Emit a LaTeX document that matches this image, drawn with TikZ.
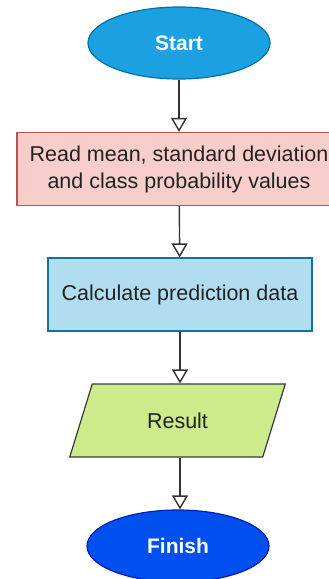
\documentclass[tikz,border=0pt]{standalone}
\usepackage{fontspec}
\setmainfont{Liberation Sans}
\usetikzlibrary{shapes.geometric,arrows.meta}
\definecolor{startfill}{HTML}{1BA1E2}
\definecolor{startline}{HTML}{006EAF}
\definecolor{readfill}{HTML}{F8CECC}
\definecolor{readline}{HTML}{B85450}
\definecolor{calcfill}{HTML}{B1DDF0}
\definecolor{calcline}{HTML}{10739E}
\definecolor{resfill}{HTML}{CDEB8B}
\definecolor{resline}{HTML}{36393D}
\definecolor{finfill}{HTML}{0050EF}
\definecolor{finline}{HTML}{001DBC}
\definecolor{txt}{HTML}{222222}
\definecolor{conn}{HTML}{333333}
\tikzset{
  term/.style={ellipse, draw, line width=1.2pt, minimum width=182pt, minimum height=72pt, inner sep=0pt, text=white, font=\fontsize{21}{25}\selectfont\bfseries},
  boxnode/.style={rectangle, draw, line width=1.2pt, inner sep=0pt, text=txt, font=\fontsize{21.5}{27}\selectfont, align=center},
  conn/.style={draw=conn, line width=1.4pt, -{Triangle[open, width=16pt, length=14pt, fill=white]}}
}
\begin{document}
\begin{tikzpicture}[x=1pt,y=-1pt]
\useasboundingbox (0,0) rectangle (329,579);
\begin{scope}
\clip (0,0) rectangle (329,579);
\node[term, fill=startfill, draw=startline] (start) at (179,43) {Start};
\node[boxnode, fill=readfill, draw=readline, minimum width=324pt, minimum height=73pt] (read) at (179,169) {Read mean, standard deviation\\and class probability values};
\node[boxnode, fill=calcfill, draw=calcline, minimum width=264pt, minimum height=73pt] (calc) at (180,294.5) {Calculate prediction data};
\node[trapezium, trapezium stretches=true, trapezium left angle=63, trapezium right angle=117, draw=resline, fill=resfill, line width=1.2pt, minimum width=217pt, minimum height=73pt, inner sep=0pt, text=txt, font=\fontsize{21.5}{27}\selectfont] (res) at (177.5,420.5) {Result};
\node[term, fill=finfill, draw=finline] (fin) at (178,546) {Finish};
\draw[conn] (start) -- (read);
\draw[conn] (read) -- (calc);
\draw[conn] (calc.south) -- (calc.south |- res.north);
\draw[conn] (res.south -| calc.south) -- (fin.north -| calc.south);
\end{scope}
\end{tikzpicture}
\end{document}
